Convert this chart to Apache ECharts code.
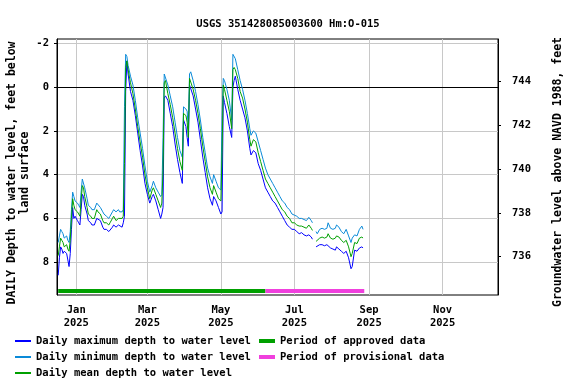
<!DOCTYPE html>
<html>
<head>
<meta charset="utf-8">
<script src="https://cdn.jsdelivr.net/npm/echarts@6/dist/echarts.min.js"></script>
<style>
  html, body { margin: 0; padding: 0; background: #fff; }
  #main { width: 576px; height: 384px; }
</style>
</head>
<body>
<div id="main"></div>
<script>
// daily values (feet below land surface)
const dates = [
  '2024-12-17','2024-12-18','2024-12-19','2024-12-20','2024-12-21','2024-12-22','2024-12-24','2024-12-25',
  '2024-12-26','2024-12-27','2024-12-28','2024-12-29','2024-12-30','2024-12-31','2025-01-02','2025-01-03',
  '2025-01-04','2025-01-05','2025-01-06','2025-01-07','2025-01-08','2025-01-10','2025-01-11','2025-01-13',
  '2025-01-14','2025-01-16','2025-01-18','2025-01-19','2025-01-21','2025-01-23','2025-01-24','2025-01-26',
  '2025-01-28','2025-01-29','2025-01-31','2025-02-01','2025-02-03','2025-02-05','2025-02-06','2025-02-08',
  '2025-02-09','2025-02-10','2025-02-11','2025-02-12','2025-02-13','2025-02-15','2025-02-17','2025-02-19',
  '2025-02-21','2025-02-23','2025-02-25','2025-02-27','2025-03-01','2025-03-03','2025-03-05','2025-03-06',
  '2025-03-08','2025-03-10','2025-03-12','2025-03-13','2025-03-14','2025-03-15','2025-03-16','2025-03-18',
  '2025-03-20','2025-03-22','2025-03-24','2025-03-26','2025-03-28','2025-03-30','2025-03-31','2025-04-02',
  '2025-04-03','2025-04-04','2025-04-05','2025-04-06','2025-04-08','2025-04-10','2025-04-12','2025-04-14',
  '2025-04-16','2025-04-18','2025-04-20','2025-04-22','2025-04-24','2025-04-25','2025-04-27','2025-04-29',
  '2025-05-01','2025-05-02','2025-05-03','2025-05-04','2025-05-06','2025-05-08','2025-05-10','2025-05-11',
  '2025-05-12','2025-05-13','2025-05-15','2025-05-17','2025-05-19','2025-05-21','2025-05-23','2025-05-25',
  '2025-05-26','2025-05-28','2025-05-30','2025-06-01','2025-06-03','2025-06-05','2025-06-07','2025-06-09',
  '2025-06-11','2025-06-13','2025-06-15','2025-06-17','2025-06-19','2025-06-21','2025-06-23','2025-06-25',
  '2025-06-27','2025-06-29','2025-07-01','2025-07-03','2025-07-05','2025-07-07','2025-07-09','2025-07-11',
  '2025-07-13','2025-07-15','2025-07-16','2025-07-17','2025-07-19','2025-07-20','2025-07-22','2025-07-24',
  '2025-07-26','2025-07-28','2025-07-29','2025-07-31','2025-08-02','2025-08-04','2025-08-05','2025-08-07',
  '2025-08-09','2025-08-11','2025-08-13','2025-08-15','2025-08-17','2025-08-18','2025-08-20','2025-08-22',
  '2025-08-24','2025-08-26','2025-08-27'
];
const minDepth = [
  7.1, 6.8, 6.5, 6.6, 6.7, 6.9, 6.8, 7.0,
  7.1, 6.6, 5.6, 4.8, 5.0, 5.2, 5.3, 5.4,
  5.5, 4.8, 4.2, 4.2, 4.6, 5.1, 5.4, 5.5,
  5.6, 5.6, 5.3, 5.3, 5.5, 5.7, 5.8, 5.9,
  6.0, 5.9, 5.7, 5.6, 5.7, 5.6, 5.7, 5.7,
  5.6, 0.9, -1.5, -1.4, -1.0, -0.5, -0.1, 0.6,
  1.4, 2.1, 2.8, 3.6, 4.3, 4.8, 4.5, 4.3,
  4.6, 4.8, 5.0, 4.9, 2.3, -0.6, -0.6, -0.1,
  0.4, 0.9, 1.6, 2.3, 2.9, 3.2, 0.9, 1.0,
  1.1, 1.9, -0.6, -0.7, -0.3, 0.2, 0.8, 1.5,
  2.3, 3.0, 3.7, 4.1, 4.4, 4.0, 4.3, 4.6,
  4.7, 1.3, -0.4, -0.3, 0.1, 0.6, 1.5, -1.5,
  -1.5, -1.3, -0.8, -0.3, 0.1, 0.6, 1.2, 1.9,
  2.2, 2.0, 2.1, 2.5, 2.9, 3.3, 3.7, 4.0,
  4.2, 4.4, 4.6, 4.8, 5.0, 5.2, 5.3, 5.5,
  5.6, 5.8, 5.85, 5.9, 6.0, 6.0, 6.05, 6.1,
  5.95, 6.1, 6.2, null, 6.6, 6.7, 6.5, 6.45,
  6.5, 6.45, 6.2, 6.45, 6.5, 6.45, 6.3, 6.4,
  6.6, 6.7, 6.5, 6.8, 7.1, 6.9, 6.75, 6.8,
  6.5, 6.35, 6.5
];
const meanDepth = [
  7.7, 7.3, 6.9, 7.0, 7.1, 7.3, 7.2, 7.4,
  7.5, 7.0, 6.0, 5.1, 5.4, 5.6, 5.7, 5.8,
  5.9, 5.2, 4.5, 4.6, 5.0, 5.5, 5.8, 5.9,
  6.0, 6.0, 5.6, 5.7, 5.8, 6.1, 6.2, 6.2,
  6.3, 6.2, 6.0, 5.9, 6.1, 6.0, 6.0, 6.0,
  5.9, 3.5, -0.9, -1.2, -0.8, -0.2, 0.3, 1.0,
  1.8, 2.5, 3.2, 4.0, 4.6, 5.1, 4.7, 4.6,
  4.9, 5.2, 5.5, 5.3, 3.8, -0.2, -0.3, 0.3,
  0.8, 1.4, 2.1, 2.8, 3.4, 3.8, 1.2, 1.3,
  1.6, 2.3, -0.4, -0.4, 0.1, 0.6, 1.2, 1.9,
  2.7, 3.4, 4.1, 4.6, 4.9, 4.5, 4.8, 5.1,
  5.2, 3.0, -0.1, 0.1, 0.6, 1.1, 1.9, -0.8,
  -0.9, -0.8, -0.4, 0.2, 0.5, 1.0, 1.6, 2.4,
  2.7, 2.4, 2.5, 3.0, 3.4, 3.8, 4.2, 4.4,
  4.6, 4.8, 5.0, 5.2, 5.4, 5.6, 5.7, 5.9,
  6.0, 6.2, 6.2, 6.3, 6.35, 6.35, 6.4, 6.45,
  6.3, 6.45, 6.55, null, 7.05, 7.1, 6.9, 6.85,
  6.9, 6.85, 6.7, 6.9, 6.95, 6.9, 6.8, 6.85,
  7.0, 7.1, 7.0, 7.3, 7.75, 7.6, 7.1, 7.15,
  6.9, 6.85, 6.9
];
const maxDepth = [
  8.6, 7.8, 7.3, 7.4, 7.6, 7.5, 7.6, 7.9,
  8.2, 7.6, 6.5, 5.5, 6.0, 5.9, 6.1, 6.2,
  6.3, 5.6, 4.9, 5.0, 5.4, 5.8, 6.1, 6.2,
  6.3, 6.3, 6.0, 6.0, 6.1, 6.4, 6.5, 6.5,
  6.6, 6.6, 6.4, 6.3, 6.4, 6.3, 6.3, 6.4,
  6.2, 5.9, 0.2, -1.2, -0.6, 0.2, 0.6, 1.3,
  2.1, 2.9, 3.6, 4.4, 4.9, 5.3, 5.0, 4.9,
  5.2, 5.6, 6.0, 5.8, 5.5, 0.5, 0.4, 0.6,
  1.2, 1.8, 2.6, 3.3, 3.9, 4.4, 1.5, 1.8,
  2.3, 2.7, -0.1, -0.1, 0.4, 1.0, 1.6, 2.4,
  3.2, 3.9, 4.6, 5.1, 5.4, 5.0, 5.2, 5.5,
  5.8, 5.7, 0.4, 0.7, 1.2, 1.8, 2.3, 0.0,
  -0.3, -0.5, 0.1, 0.6, 1.0, 1.4, 2.0, 2.8,
  3.1, 2.9, 3.0, 3.5, 3.8, 4.2, 4.6, 4.8,
  5.0, 5.2, 5.3, 5.5, 5.7, 5.9, 6.1, 6.3,
  6.4, 6.5, 6.5, 6.6, 6.7, 6.65, 6.75, 6.8,
  6.75, 6.85, 6.95, null, 7.3, 7.35, 7.2, 7.2,
  7.25, 7.2, 7.2, 7.35, 7.4, 7.45, 7.3, 7.4,
  7.5, 7.6, 7.5, 7.8, 8.3, 8.2, 7.45, 7.5,
  7.35, 7.3, 7.35
];

// approval periods, drawn as a strip near the bottom of the plot
const approvedDates = ['2024-12-17', '2025-06-07'];
const provisionalDates = ['2025-06-07', '2025-08-28'];
const periodDepth = 9.32;

const landSurface = 743.75; // land surface datum, ft NAVD 1988
const depthTicks = [-2, 0, 2, 4, 6, 8];
const elevTicks = [736, 738, 740, 742, 744];
const monthTicks = ['2025-01-01', '2025-03-01', '2025-05-01', '2025-07-01', '2025-09-01', '2025-11-01'];
const monthLabels = ['Jan', 'Mar', 'May', 'Jul', 'Sep', 'Nov'];
const yearLabel = '2025';

const FONT = 'DejaVu Sans Mono';
const depthMin = -2.2, depthMax = 9.5;

function ts(s) { return +new Date(s + 'T00:00:00'); }
function pairs(vals) { return dates.map((d, i) => [ts(d), vals[i]]); }

const monthTs = monthTicks.map(ts);
const txt = { fontFamily: FONT, fontWeight: 'bold', fontSize: 10.5, color: '#000' };
const nameTxt = { fontFamily: FONT, fontWeight: 'bold', fontSize: 11.5, color: '#000' };

let myChart = echarts.init(document.getElementById('main'), null, { renderer: 'canvas' });

myChart.setOption({
  animation: false,
  textStyle: txt,
  title: {
    text: 'USGS 351428085003600 Hm:O-015',
    left: 'center',
    top: 14,
    textStyle: txt
  },
  grid: {
    left: 57, right: 78, top: 39, bottom: 89,
    outerBoundsMode: 'none',
    containLabel: false,
    show: true, borderColor: '#000', borderWidth: 1
  },
  legend: [
    {
      orient: 'vertical', left: 15, top: 334, padding: 0,
      icon: 'rect', itemWidth: 16, itemHeight: 2, itemGap: 2,
      textStyle: Object.assign({ lineHeight: 14 }, txt),
      data: ['Daily maximum depth to water level', 'Daily minimum depth to water level', 'Daily mean depth to water level']
    },
    {
      orient: 'vertical', left: 259, top: 334, padding: 0,
      icon: 'rect', itemWidth: 16, itemHeight: 4, itemGap: 2,
      textStyle: Object.assign({ lineHeight: 14 }, txt),
      data: ['Period of approved data', 'Period of provisional data']
    }
  ],
  xAxis: {
    type: 'value',
    min: ts('2024-12-16'),
    max: ts('2025-12-17'),
    axisLine: { show: true, lineStyle: { color: '#000' } },
    axisTick: { show: false, customValues: monthTs },
    splitLine: { show: true, lineStyle: { color: '#c8c8c8', width: 1 } },
    axisLabel: Object.assign({
      customValues: monthTs,
      margin: 9,
      lineHeight: 13,
      formatter: function (v) {
        const i = monthTs.indexOf(v);
        return (i >= 0 ? monthLabels[i] : '') + '\n' + yearLabel;
      }
    }, txt)
  },
  yAxis: [
    {
      type: 'value',
      inverse: true,
      min: depthMin, max: depthMax,
      name: 'DAILY Depth to water level, feet below\nland surface',
      nameLocation: 'middle',
      nameGap: 25,
      nameMoveOverlap: false,
      nameTextStyle: Object.assign({ lineHeight: 13, padding: [0, 12, 0, 0] }, nameTxt),
      axisLine: { show: true, lineStyle: { color: '#000' } },
      axisTick: { show: true, length: 3, customValues: depthTicks, lineStyle: { color: '#000' } },
      splitLine: { show: true, lineStyle: { color: '#c8c8c8', width: 1 } },
      axisLabel: Object.assign({ customValues: depthTicks, margin: 8 }, txt)
    },
    {
      type: 'value',
      position: 'right',
      min: landSurface - depthMax, max: landSurface - depthMin,
      name: 'Groundwater level above NAVD 1988, feet',
      nameLocation: 'middle',
      nameGap: 54,
      nameRotate: 90,
      nameTextStyle: Object.assign({ padding: [0, 10, 0, 0] }, nameTxt),
      axisLine: { show: true, lineStyle: { color: '#000' } },
      axisTick: { show: true, length: 3, customValues: elevTicks, lineStyle: { color: '#000' } },
      splitLine: { show: false },
      axisLabel: Object.assign({ customValues: elevTicks, margin: 14 }, txt)
    }
  ],
  series: [
    {
      name: 'Period of approved data', type: 'line', symbol: 'none',
      lineStyle: { color: '#00a000', width: 4 }, itemStyle: { color: '#00a000' },
      data: approvedDates.map(d => [ts(d), periodDepth])
    },
    {
      name: 'Period of provisional data', type: 'line', symbol: 'none',
      lineStyle: { color: '#f040dd', width: 4 }, itemStyle: { color: '#f040dd' },
      data: provisionalDates.map(d => [ts(d), periodDepth])
    },
    {
      name: 'Daily maximum depth to water level', type: 'line', symbol: 'none',
      lineStyle: { color: '#0000ff', width: 1 }, itemStyle: { color: '#0000ff' },
      data: pairs(maxDepth)
    },
    {
      name: 'Daily minimum depth to water level', type: 'line', symbol: 'none',
      lineStyle: { color: '#0a8ad8', width: 1 }, itemStyle: { color: '#0a8ad8' },
      data: pairs(minDepth)
    },
    {
      name: 'Daily mean depth to water level', type: 'line', symbol: 'none',
      lineStyle: { color: '#00a000', width: 1 }, itemStyle: { color: '#00a000' },
      data: pairs(meanDepth)
    }
  ]
});
</script>
</body>
</html>
